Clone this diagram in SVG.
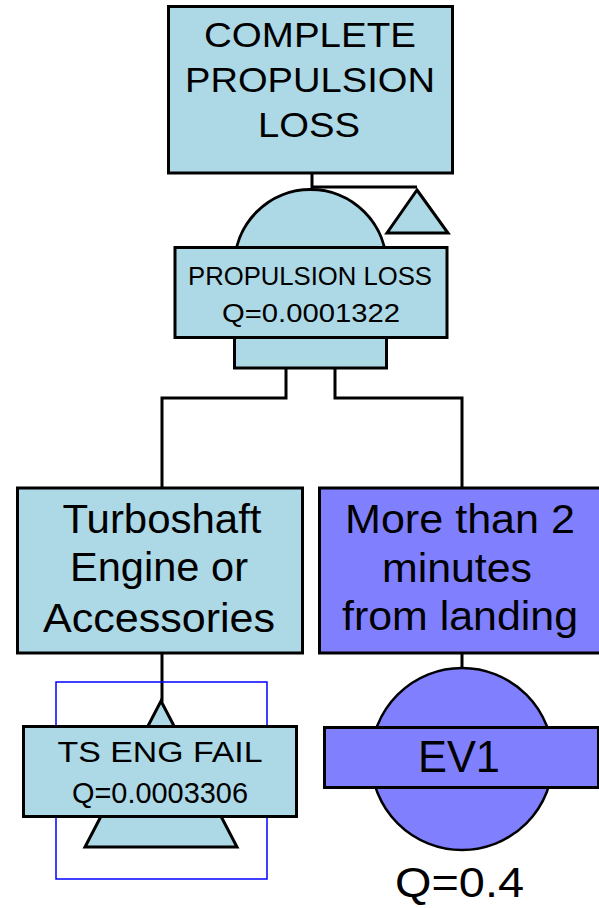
<svg xmlns="http://www.w3.org/2000/svg" width="599" height="908" viewBox="0 0 599 908">
<style>
.lb{fill:#ADD8E6;stroke:#000;stroke-width:3}
.pu{fill:#8080FF;stroke:#000;stroke-width:3}
.conn{fill:none;stroke:#000;stroke-width:3}
text{font-family:"Liberation Sans",Arial,sans-serif;fill:#000;text-anchor:middle}
.t36{font-size:35px}
.t42{font-size:41px}
.t25{font-size:25px}
.t30{font-size:29px}
</style>
<rect x="0" y="0" width="599" height="908" fill="#fff"/>
<g id="connectors">
<path class="conn" d="M312,173 V187 H417"/>
<path class="conn" d="M286,368 V398 H162 V488"/>
<path class="conn" d="M335,368 V398 H462 V488"/>
<path class="conn" d="M162,653 V702"/>
<path class="conn" d="M462,653 V668"/>
</g>
<g id="top-event">
<rect class="lb" x="168.5" y="6.5" width="284" height="166.5"/>
<text class="t36" x="310" y="47" textLength="212" lengthAdjust="spacingAndGlyphs">COMPLETE</text>
<text class="t36" x="310" y="92" textLength="250" lengthAdjust="spacingAndGlyphs">PROPULSION</text>
<text class="t36" x="309" y="137" textLength="102" lengthAdjust="spacingAndGlyphs">LOSS</text>
</g>
<g id="transfer-out">
<polygon class="lb" points="417,190 448,233 387,233"/>
</g>
<g id="gate-propulsion-loss">
<path class="lb" d="M234.5,368 V265.5 A76,76 0 0 1 386.5,265.5 V368 Z"/>
<rect class="lb" x="175" y="247.5" width="272" height="90"/>
<text class="t25" x="310" y="285" textLength="244" lengthAdjust="spacingAndGlyphs">PROPULSION LOSS</text>
<text class="t25" x="311" y="322" textLength="178" lengthAdjust="spacingAndGlyphs">Q=0.0001322</text>
</g>
<g id="turboshaft">
<rect class="lb" x="17.5" y="488" width="285" height="165"/>
<text class="t42" x="162" y="533" textLength="199" lengthAdjust="spacingAndGlyphs">Turboshaft</text>
<text class="t42" x="159" y="581" textLength="178" lengthAdjust="spacingAndGlyphs">Engine or</text>
<text class="t42" x="159" y="632" textLength="232" lengthAdjust="spacingAndGlyphs">Accessories</text>
</g>
<g id="more-than-2-minutes">
<rect class="pu" x="319.5" y="488" width="286" height="165"/>
<text class="t42" x="460" y="533" textLength="230" lengthAdjust="spacingAndGlyphs">More than 2</text>
<text class="t42" x="457" y="582" textLength="150" lengthAdjust="spacingAndGlyphs">minutes</text>
<text class="t42" x="460" y="630" textLength="236" lengthAdjust="spacingAndGlyphs">from landing</text>
</g>
<g id="ts-eng-fail">
<rect x="56" y="682" width="211" height="197" fill="none" stroke="#0000FF" stroke-width="1.5"/>
<polygon class="lb" points="161,701 237,847 85,847"/>
<rect class="lb" x="23.5" y="726.5" width="273" height="90"/>
<text class="t30" x="160" y="762" textLength="205" lengthAdjust="spacingAndGlyphs">TS ENG FAIL</text>
<text class="t30" x="160" y="803" textLength="176" lengthAdjust="spacingAndGlyphs">Q=0.0003306</text>
</g>
<g id="ev1">
<circle cx="462" cy="759" r="91" fill="#8080FF" stroke="#000" stroke-width="2.5"/>
<rect class="pu" x="324.5" y="727.5" width="274" height="60"/>
<text x="459" y="772" style="font-size:44px" textLength="82" lengthAdjust="spacingAndGlyphs">EV1</text>
<text x="459.5" y="897" style="font-size:43px" textLength="129" lengthAdjust="spacingAndGlyphs">Q=0.4</text>
</g>
</svg>
